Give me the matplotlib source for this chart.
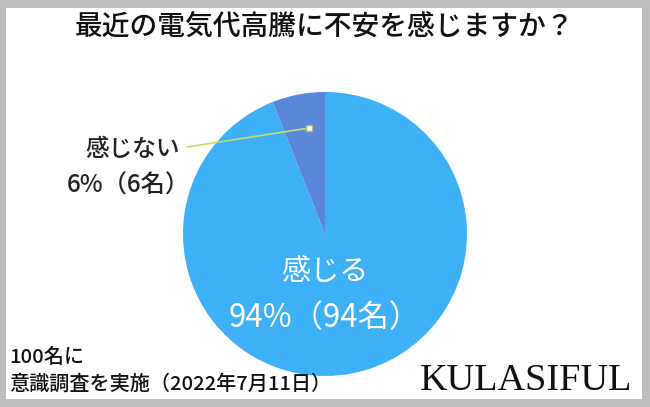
import matplotlib
matplotlib.use("Agg")
import matplotlib.pyplot as plt
from matplotlib.patches import Rectangle

plt.rcParams['font.family'] = ['Noto Sans CJK JP', 'DejaVu Sans']

title = "最近の電気代高騰に不安を感じますか？"
labels = ["感じる", "感じない"]
values = [94, 6]
counts = [94, 6]
colors = ["#3DB0F7", "#5B87D8"]
note_lines = ["100名に", "意識調査を実施（2022年7月11日）"]
brand = "KULASIFUL"

W, H = 650, 407
fig = plt.figure(figsize=(W/100, H/100), dpi=100)
fig.patch.set_facecolor("#BDBDBD")
# white inner panel
fig.patches.append(Rectangle((6/W, 8/H), (W-14)/W, (H-16)/H, transform=fig.transFigure,
                             facecolor="white", edgecolor="none", zorder=-5))

cx, cy, r = 325, 234, 142
ax = fig.add_axes([(cx-r)/W, (H-cy-r)/H, 2*r/W, 2*r/H], zorder=2)
ax.patch.set_visible(False)
wedges, _ = ax.pie(values, colors=colors, startangle=90, counterclock=False,
                   wedgeprops=dict(linewidth=0))
ax.set_xlim(-1, 1); ax.set_ylim(-1, 1)
ax.set_aspect('equal')
ax.axis('off')

# inner label for large slice
ax.text(0, -0.27, labels[0], ha='center', va='center', color='white', fontsize=21)
ax.text(0, -0.59, f"{values[0]}%（{counts[0]}名）", ha='center', va='center', color='white', fontsize=22.5)

# leader line for small slice
px, py = (309-cx)/r, (cy-128)/r
ex, ey = (187-cx)/r, (cy-147)/r
ax.plot([px, ex], [py, ey], color="#C5DC72", lw=1.2, clip_on=False, zorder=5)
ax.plot([px], [py], marker='s', ms=4.5, mfc="white", mec="#A9C25A", mew=1, clip_on=False, zorder=6)

fig.text(133/W, 1-150/H, labels[1], ha='center', va='center', fontsize=17, color="#222222", fontweight='medium')
fig.text(128/W, 1-186/H, f"{values[1]}%（{counts[1]}名）", ha='center', va='center', fontsize=17.5, color="#222222", fontweight='medium')

fig.text(325/W, 1-27/H, title, ha='center', va='center', fontsize=20, color="#111111", fontweight='medium')

fig.text(9/W, 1-357/H, note_lines[0], ha='left', va='center', fontsize=14.5, color="#111111", fontweight='medium')
fig.text(9/W, 1-384/H, note_lines[1], ha='left', va='center', fontsize=14.5, color="#111111", fontweight='medium')

fig.text(632/W, 1-381/H, brand, ha='right', va='center', fontsize=27.5, color="#111111",
         family=['Liberation Serif'])

fig.savefig("out.png", dpi=100, facecolor=fig.get_facecolor())
